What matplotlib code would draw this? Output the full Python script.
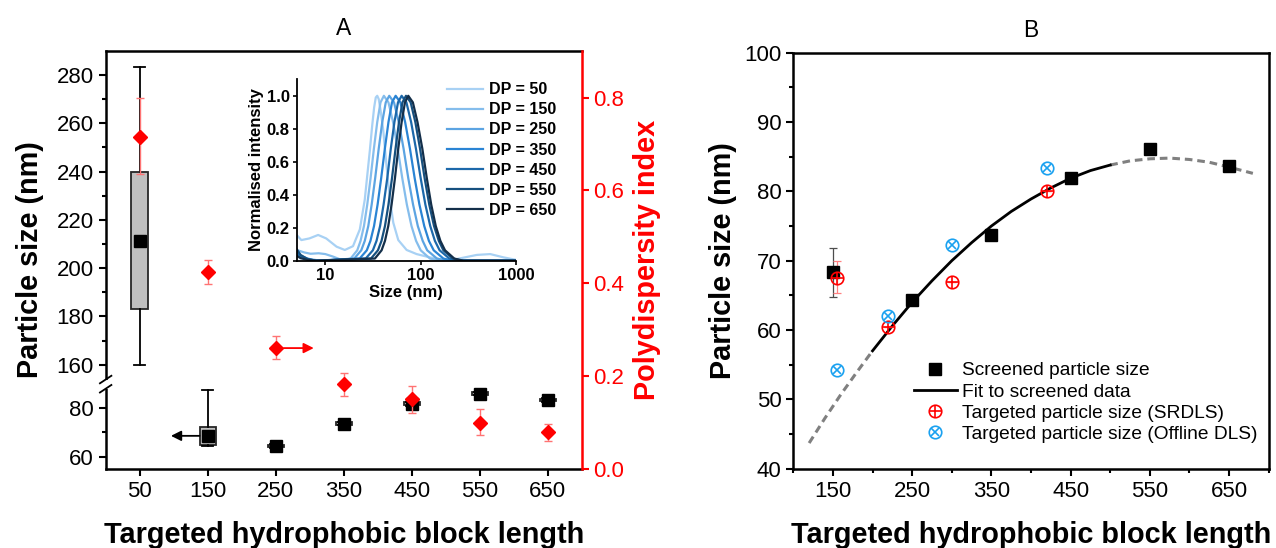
import numpy as np
import matplotlib
matplotlib.use('Agg')
import matplotlib.pyplot as plt
from matplotlib.lines import Line2D
from matplotlib.legend_handler import HandlerTuple

plt.rcParams['font.family'] = ['Liberation Sans', 'DejaVu Sans']

# ---------------- Panel A data ----------------
dp_a = [50, 150, 250, 350, 450, 550, 650]
size_whislo = [160.0, 64.2, 63.6, 72.9, 81.1, 85.3, 82.7]
size_q1 = [183.0, 64.8, 63.9, 73.2, 81.4, 85.6, 83.0]
size_mean = [211.4, 68.6, 64.4, 73.7, 81.9, 86.1, 83.5]
size_q3 = [239.8, 72.1, 64.9, 74.2, 82.4, 86.6, 84.0]
size_whishi = [283.4, 87.7, 65.2, 74.5, 82.7, 86.9, 84.3]

pdi = [0.716, 0.423, 0.260, 0.182, 0.150, 0.099, 0.079]
pdi_lo = [0.635, 0.398, 0.237, 0.157, 0.119, 0.073, 0.060]
pdi_hi = [0.799, 0.449, 0.285, 0.206, 0.178, 0.128, 0.096]

# ---------------- Inset (DLS distributions) ----------------
dp_labels = ['DP = 50', 'DP = 150', 'DP = 250', 'DP = 350', 'DP = 450', 'DP = 550', 'DP = 650']
s50 = [5.0, 5.6, 6.8, 8.4, 10.2, 13.1, 16.0, 19.5, 23.0, 25.9, 29.3, 31.0, 32.5, 33.8, 35.0, 36.3,
       38.0, 40.5, 43.9, 47.6, 51.6, 58.2, 71.2, 90.7, 125, 173, 239, 388, 537, 741, 1000]
i50 = [0.156, 0.125, 0.135, 0.156, 0.135, 0.085, 0.065, 0.088, 0.19, 0.37, 0.67, 0.82, 0.93, 0.99, 1.0, 0.98,
       0.91, 0.79, 0.57, 0.37, 0.23, 0.125, 0.065, 0.04, 0.02, 0.005, 0.01, 0.035, 0.04, 0.02, 0.005]
s150 = [5.0, 6.0, 7.0, 8.5, 10.0, 12.0, 14.0, 16.0, 18.4, 21.6, 23.4, 25.4, 27.5, 29.8, 32.3, 35.0, 37.9,
        41.1, 45.9, 51.3, 57.4, 64.1, 71.6, 80.1, 89.5, 100, 125, 156, 1000]
i150 = [0.065, 0.05, 0.042, 0.045, 0.04, 0.025, 0.01, 0.004, 0.013, 0.063, 0.12, 0.21, 0.34, 0.5, 0.68, 0.84, 0.96,
        1.0, 0.96, 0.84, 0.68, 0.5, 0.34, 0.21, 0.12, 0.063, 0.013, 0.0, 0.0]
s250 = [5.0, 6.0, 7.0, 9.0, 20.1, 23.8, 25.9, 28.2, 30.6, 33.3, 36.3, 39.5, 43.0, 46.8, 52.5, 58.9, 66.1,
        74.1, 83.2, 93.3, 105, 117, 148, 186, 1000]
i250 = [0.04, 0.02, 0.008, 0.0, 0.013, 0.063, 0.12, 0.21, 0.34, 0.5, 0.68, 0.84, 0.96, 1.0, 0.96, 0.84, 0.68,
        0.5, 0.34, 0.21, 0.12, 0.063, 0.013, 0.0, 0.0]
s350 = [5.0, 5.5, 6.5, 8.0, 22.9, 27.2, 29.7, 32.4, 35.3, 38.5, 42.1, 45.9, 50.0, 54.6, 61.2, 68.7, 77.1,
        86.5, 97.0, 109, 122, 137, 173, 217, 1000]
i350 = [0.06, 0.03, 0.01, 0.0, 0.013, 0.063, 0.12, 0.21, 0.34, 0.5, 0.68, 0.84, 0.96, 1.0, 0.96, 0.84, 0.68,
        0.5, 0.34, 0.21, 0.12, 0.063, 0.013, 0.0, 0.0]
s450 = [5.0, 5.5, 6.5, 8.0, 26.5, 31.5, 34.4, 37.5, 40.8, 44.6, 48.6, 53.0, 57.8, 63.1, 70.8, 79.4, 89.1,
        100, 112, 126, 141, 158, 200, 251, 1000]
i450 = [0.05, 0.025, 0.008, 0.0, 0.013, 0.063, 0.12, 0.21, 0.34, 0.5, 0.68, 0.84, 0.96, 1.0, 0.96, 0.84, 0.68,
        0.5, 0.34, 0.21, 0.12, 0.063, 0.013, 0.0, 0.0]
s550 = [5.0, 5.5, 6.5, 8.0, 30.1, 35.6, 38.8, 42.2, 45.9, 50.0, 54.5, 59.2, 64.4, 70.1, 78.5, 87.9, 98.4,
        110, 123, 138, 155, 173, 217, 272, 1000]
i550 = [0.07, 0.035, 0.01, 0.0, 0.013, 0.063, 0.12, 0.21, 0.34, 0.5, 0.68, 0.84, 0.96, 1.0, 0.96, 0.84, 0.68,
        0.5, 0.34, 0.21, 0.12, 0.063, 0.013, 0.0, 0.0]
s650 = [5.0, 5.5, 6.5, 8.0, 33.1, 38.9, 42.2, 45.7, 49.5, 53.7, 58.2, 63.1, 68.4, 74.1, 82.8, 92.6, 104,
        116, 129, 144, 161, 180, 225, 281, 1000]
i650 = [0.03, 0.015, 0.005, 0.0, 0.013, 0.063, 0.12, 0.21, 0.34, 0.5, 0.68, 0.84, 0.96, 1.0, 0.96, 0.84, 0.68,
        0.5, 0.34, 0.21, 0.12, 0.063, 0.013, 0.0, 0.0]
inset_colors = ['#a8d1f4', '#85bdec', '#5ca4e2', '#2a84d4', '#1c68aa', '#16507f', '#142f4a']

# ---------------- Panel B data ----------------
dp_b = [150, 250, 350, 450, 550, 650]
size_b = [68.3, 64.4, 73.7, 81.9, 86.1, 83.6]
size_b_err_lo = [3.6, 0, 0, 0, 0, 0]
size_b_err_hi = [3.6, 0, 0, 0, 0, 0]
target_dp = [155, 220, 300, 420]
srdls = [67.5, 60.4, 66.9, 80.0]
srdls_err_lo = [2.2, 0, 0, 0]
srdls_err_hi = [2.4, 0, 0, 0]
offline = [54.3, 62.0, 72.3, 83.4]
fit_solid_x = [200, 225, 250, 275, 300, 325, 350, 375, 400, 425, 450, 475, 500]
fit_solid_y = [57.0, 60.6, 64.0, 67.1, 70.0, 72.6, 75.0, 77.1, 78.9, 80.5, 81.9, 83.0, 83.8]
fit_dash_lo_x = [120, 140, 160, 180, 200]
fit_dash_lo_y = [43.7, 47.3, 50.7, 53.9, 57.0]
fit_dash_hi_x = [500, 525, 550, 575, 600, 625, 650, 680]
fit_dash_hi_y = [83.8, 84.4, 84.7, 84.8, 84.6, 84.2, 83.5, 82.6]

# ---------------- Figure ----------------
fig = plt.figure(figsize=(12.76, 5.48), dpi=100)
TICK_FS = 16
LAB_FS = 20.8
SP_LW = 1.8

axA = fig.add_axes([0.0828, 0.1447, 0.3731, 0.7628])

BREAK_LO, BREAK_HI = 90.0, 152.0
def fwd(y):
    y = np.asarray(y, dtype=float)
    return np.where(y <= BREAK_LO, y, np.where(y >= BREAK_HI, y - (BREAK_HI - BREAK_LO), BREAK_LO))
def inv(v):
    v = np.asarray(v, dtype=float)
    return np.where(v <= BREAK_LO, v, v + (BREAK_HI - BREAK_LO))

axA.set_yscale('function', functions=(fwd, inv))
axA.set_xlim(0, 700)
axA.set_ylim(55, 290)

stats = []
for i in range(len(dp_a)):
    stats.append(dict(whislo=size_whislo[i], q1=size_q1[i], med=size_mean[i], mean=size_mean[i],
                      q3=size_q3[i], whishi=size_whishi[i]))
axA.bxp(stats, positions=dp_a, widths=24, capwidths=16, patch_artist=True, showmeans=True,
        showfliers=False, manage_ticks=False,
        boxprops=dict(facecolor='#bfbfbf', edgecolor='#262626', linewidth=1.3),
        whiskerprops=dict(color='black', linewidth=1.3),
        capprops=dict(color='black', linewidth=1.3),
        medianprops=dict(linewidth=0),
        meanprops=dict(marker='s', markerfacecolor='black', markeredgecolor='black', markersize=8))

axA.annotate('', xy=(96, size_mean[1]), xytext=(138, size_mean[1]),
             arrowprops=dict(arrowstyle='-|>', color='black', lw=1.3, mutation_scale=15,
                             shrinkA=0, shrinkB=0))

axA.set_yticks([60, 80, 160, 180, 200, 220, 240, 260, 280])
axA.set_yticks([70, 170, 190, 210, 230, 250, 270], minor=True)
axA.set_xticks(dp_a)
axA.tick_params(axis='both', which='major', direction='out', length=5, width=1.5, labelsize=TICK_FS)
axA.tick_params(axis='y', which='minor', direction='out', length=3, width=1.5)
axA.tick_params(axis='x', which='minor', bottom=False)
for s in ['left', 'bottom', 'top']:
    axA.spines[s].set_linewidth(SP_LW)
axA.spines['right'].set_visible(False)
axA.set_ylabel('Particle size (nm)', fontsize=LAB_FS, fontweight='bold', labelpad=9)
axA.set_xlabel('Targeted hydrophobic block length', fontsize=LAB_FS, fontweight='bold', labelpad=14)
axA.set_title('A', fontsize=16.5, pad=11)

# axis break marks
yb = (BREAK_LO - 55) / (fwd(290) - 55)
axA.plot([0, 0], [yb - 0.011, yb + 0.011], transform=axA.transAxes, color='white', lw=4,
         clip_on=False, zorder=6, solid_capstyle='butt')
for dy in (-0.011, 0.011):
    axA.plot([-0.012, 0.012], [yb + dy - 0.009, yb + dy + 0.009], transform=axA.transAxes,
             color='black', lw=1.3, clip_on=False, zorder=7)

# right axis: PDI
axR = axA.twinx()
axR.set_ylim(0, 0.901)
pdi_arr = np.array(pdi)
axR.errorbar(dp_a, pdi, yerr=[pdi_arr - np.array(pdi_lo), np.array(pdi_hi) - pdi_arr], fmt='D',
             color='red', markersize=7, ecolor='#ff7373', elinewidth=1.0, capsize=3, capthick=1.0)
axR.annotate('', xy=(306, pdi[2]), xytext=(262, pdi[2]),
             arrowprops=dict(arrowstyle='-|>', color='red', lw=1.3, mutation_scale=15,
                             shrinkA=0, shrinkB=0))
axR.set_yticks([0.0, 0.2, 0.4, 0.6, 0.8])
axR.tick_params(axis='y', which='major', direction='out', length=5, width=1.5, labelsize=TICK_FS,
                colors='red')
for s in ['left', 'bottom', 'top']:
    axR.spines[s].set_visible(False)
axR.spines['right'].set_color('red')
axR.spines['right'].set_linewidth(SP_LW)
axR.set_ylabel('Polydispersity index', fontsize=LAB_FS, fontweight='bold', color='red', labelpad=6)

# inset
axI = fig.add_axes([0.2325, 0.5243, 0.1719, 0.3310], zorder=10)
axI.patch.set_visible(False)
for sx, iy, lab, c in zip([s50, s150, s250, s350, s450, s550, s650],
                          [i50, i150, i250, i350, i450, i550, i650], dp_labels, inset_colors):
    axI.plot(sx, iy, color=c, lw=1.6, label=lab)
axI.set_xscale('log')
axI.set_xlim(5, 1000)
axI.set_ylim(0, 1.1)
axI.set_xticks([10, 100, 1000])
axI.set_xticklabels(['10', '100', '1000'])
axI.xaxis.set_minor_locator(matplotlib.ticker.NullLocator())
axI.set_yticks([0.0, 0.2, 0.4, 0.6, 0.8, 1.0])
axI.tick_params(axis='both', direction='out', length=3, width=1.2, labelsize=12, pad=2)
for lbl in axI.get_xticklabels() + axI.get_yticklabels():
    lbl.set_fontweight('bold')
for s in ['top', 'right']:
    axI.spines[s].set_visible(False)
for s in ['left', 'bottom']:
    axI.spines[s].set_linewidth(1.3)
axI.set_xlabel('Size (nm)', fontsize=12, fontweight='bold', labelpad=2)
axI.set_ylabel('Normalised intensity', fontsize=12, fontweight='bold', labelpad=2)
legI = axI.legend(loc='upper left', bbox_to_anchor=(0.350, 0.850), bbox_transform=fig.transFigure,
                  frameon=False, prop=dict(weight='bold', size=11.5),
                  handlelength=2.3, handletextpad=0.35, labelspacing=0.32, borderpad=0,
                  borderaxespad=0)

# ---------------- Panel B ----------------
axB = fig.add_axes([0.6217, 0.1447, 0.3726, 0.7591])
axB.set_xlim(100, 700)
axB.set_ylim(40, 100)
axB.plot(fit_dash_lo_x, fit_dash_lo_y, color='#808080', lw=2.2, dashes=(2.5, 1.6), zorder=2)
axB.plot(fit_dash_hi_x, fit_dash_hi_y, color='#808080', lw=2.2, dashes=(2.5, 1.6), zorder=2)
axB.plot(fit_solid_x, fit_solid_y, color='black', lw=2.0, zorder=2)

axB.errorbar(dp_b, size_b, yerr=[size_b_err_lo, size_b_err_hi], fmt='none', ecolor='#4d4d4d',
             elinewidth=0.9, capsize=3, capthick=0.9, zorder=3)
axB.plot(dp_b, size_b, 's', color='black', markersize=8, zorder=4)
axB.errorbar(target_dp, srdls, yerr=[srdls_err_lo, srdls_err_hi], fmt='none', ecolor='#ff8080',
             elinewidth=0.9, capsize=3, capthick=0.9, zorder=3)
BLUE = '#1aa1f0'
axB.plot(target_dp, srdls, 'o', mfc='none', mec='red', mew=1.2, markersize=9, zorder=5)
axB.plot(target_dp, srdls, '+', color='red', mew=1.2, markersize=9, zorder=5)
axB.plot(target_dp, offline, 'o', mfc='none', mec=BLUE, mew=1.2, markersize=9, zorder=5)
axB.plot(target_dp, offline, 'x', color=BLUE, mew=1.2, markersize=6.4, zorder=5)

axB.set_xticks([150, 250, 350, 450, 550, 650])
axB.set_xticks([100, 200, 300, 400, 500, 600, 700], minor=True)
axB.set_yticks([40, 50, 60, 70, 80, 90, 100])
axB.set_yticks([45, 55, 65, 75, 85, 95], minor=True)
axB.tick_params(axis='both', which='major', direction='out', length=5, width=1.5, labelsize=TICK_FS)
axB.tick_params(axis='both', which='minor', direction='out', length=3, width=1.5)
for s in axB.spines.values():
    s.set_linewidth(SP_LW)
axB.set_ylabel('Particle size (nm)', fontsize=LAB_FS, fontweight='bold', labelpad=5)
axB.set_xlabel('Targeted hydrophobic block length', fontsize=LAB_FS, fontweight='bold', labelpad=14)
axB.set_title('B', fontsize=16.5, pad=11)

hsq = Line2D([], [], marker='s', color='black', linestyle='none', markersize=8)
hfit = Line2D([], [], color='black', lw=2.0)
hr = (Line2D([], [], marker='o', mfc='none', mec='red', mew=1.2, markersize=9, linestyle='none'),
      Line2D([], [], marker='+', color='red', mew=1.2, markersize=9, linestyle='none'))
hb = (Line2D([], [], marker='o', mfc='none', mec=BLUE, mew=1.2, markersize=9, linestyle='none'),
      Line2D([], [], marker='x', color=BLUE, mew=1.2, markersize=6.4, linestyle='none'))
axB.legend([hsq, hfit, hr, hb],
           ['Screened particle size', 'Fit to screened data', 'Targeted particle size (SRDLS)',
            'Targeted particle size (Offline DLS)'],
           handler_map={tuple: HandlerTuple(ndivide=1)},
           loc='upper left', bbox_to_anchor=(0.7163, 0.3394), bbox_transform=fig.transFigure,
           frameon=False, fontsize=13.8, handlelength=2.23, handletextpad=0.3, labelspacing=0.2,
           borderpad=0, borderaxespad=0)

fig.savefig('out.png', dpi=100)
